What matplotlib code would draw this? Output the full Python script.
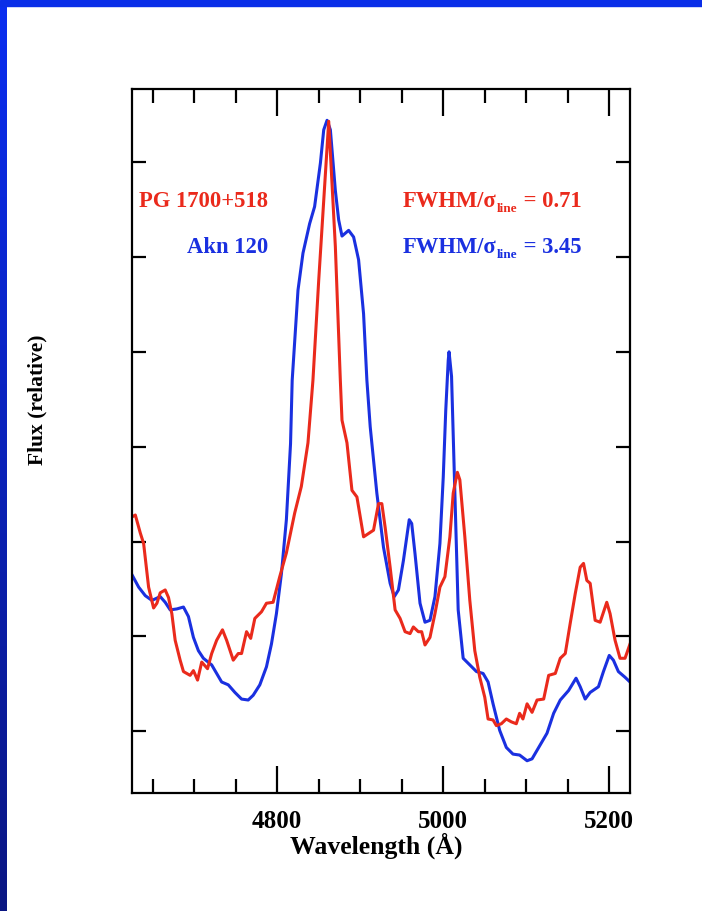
import numpy as np
import matplotlib
matplotlib.use("Agg")
import matplotlib.pyplot as plt
from matplotlib.patches import Rectangle

# ---- spectra (wavelength in Angstrom, relative flux) ----
pg_wave = [4625, 4629, 4635, 4639, 4645, 4651, 4655, 4659, 4665, 4669, 4673, 4677,
           4683, 4687, 4695, 4699, 4704, 4709, 4716, 4721, 4727, 4734, 4739, 4747,
           4753, 4757, 4763, 4768, 4773, 4781, 4787, 4795, 4803, 4811, 4821, 4829,
           4837, 4843, 4850, 4862, 4870, 4876, 4878, 4884, 4890, 4896, 4904, 4916,
           4922, 4926, 4930, 4936, 4942, 4948, 4954, 4960, 4964, 4970, 4974, 4978,
           4984, 4990, 4996, 5002, 5008, 5012, 5017, 5020, 5026, 5032, 5038, 5044,
           5050, 5054, 5060, 5064, 5070, 5076, 5082, 5088, 5092, 5096, 5101, 5107,
           5113, 5121, 5127, 5135, 5141, 5147, 5153, 5159, 5165, 5169, 5173, 5177,
           5183, 5189, 5197, 5201, 5207, 5213, 5219, 5225]
pg_flux = [3.26, 3.28, 3.09, 2.98, 2.52, 2.30, 2.35, 2.46, 2.49, 2.41, 2.24, 1.96,
           1.75, 1.63, 1.59, 1.64, 1.54, 1.73, 1.66, 1.82, 1.96, 2.07, 1.96, 1.75,
           1.82, 1.82, 2.05, 1.98, 2.19, 2.26, 2.35, 2.36, 2.63, 2.88, 3.30, 3.58,
           4.04, 4.70, 5.76, 7.43, 6.11, 4.70, 4.28, 4.04, 3.54, 3.47, 3.05, 3.12,
           3.40, 3.40, 3.15, 2.73, 2.28, 2.19, 2.05, 2.03, 2.10, 2.05, 2.05, 1.91,
           1.99, 2.24, 2.52, 2.63, 3.05, 3.51, 3.73, 3.65, 3.05, 2.38, 1.85, 1.57,
           1.36, 1.13, 1.12, 1.06, 1.08, 1.13, 1.10, 1.08, 1.19, 1.13, 1.29, 1.20,
           1.33, 1.34, 1.59, 1.61, 1.77, 1.82, 2.14, 2.45, 2.73, 2.77, 2.59, 2.56,
           2.17, 2.15, 2.36, 2.24, 1.96, 1.77, 1.77, 1.92]

akn_wave = [4625, 4633, 4641, 4649, 4659, 4665, 4671, 4679, 4687, 4693, 4699, 4705,
            4711, 4721, 4727, 4733, 4741, 4749, 4757, 4765, 4771, 4779, 4787, 4793,
            4799, 4805, 4811, 4816, 4818, 4825, 4831, 4839, 4845, 4852, 4856, 4860,
            4864, 4870, 4874, 4878, 4886, 4892, 4898, 4904, 4908, 4912, 4920, 4928,
            4936, 4941, 4946, 4952, 4959, 4962, 4966, 4972, 4978, 4984, 4990, 4996,
            5000, 5003, 5006, 5007, 5010, 5014, 5018, 5024, 5032, 5040, 5048, 5054,
            5060, 5068, 5076, 5084, 5092, 5101, 5107, 5115, 5125, 5133, 5141, 5151,
            5160, 5165, 5171, 5177, 5187, 5193, 5200, 5205, 5211, 5219, 5225]
akn_flux = [2.65, 2.52, 2.43, 2.38, 2.42, 2.36, 2.28, 2.29, 2.31, 2.21, 1.99, 1.85,
            1.77, 1.70, 1.61, 1.52, 1.49, 1.41, 1.34, 1.33, 1.38, 1.49, 1.68, 1.92,
            2.24, 2.66, 3.23, 4.03, 4.70, 5.65, 6.04, 6.35, 6.53, 6.99, 7.34, 7.44,
            7.34, 6.70, 6.39, 6.22, 6.28, 6.21, 5.97, 5.40, 4.70, 4.21, 3.51, 2.94,
            2.56, 2.42, 2.49, 2.80, 3.23, 3.19, 2.87, 2.35, 2.15, 2.17, 2.42, 2.98,
            3.68, 4.38, 4.91, 5.00, 4.74, 3.51, 2.28, 1.77, 1.70, 1.63, 1.61, 1.52,
            1.29, 1.01, 0.83, 0.76, 0.75, 0.69, 0.71, 0.83, 0.98, 1.19, 1.33, 1.43,
            1.56, 1.47, 1.34, 1.41, 1.47, 1.63, 1.80, 1.75, 1.63, 1.57, 1.52]

x_major = [4800, 5000, 5200]
x_minor = [4650, 4700, 4750, 4850, 4900, 4950, 5050, 5100, 5150]
y_major = [1, 2, 3, 4, 5, 6, 7]

pg_label = "PG 1700+518"
akn_label = "Akn 120"
pg_ratio = "0.71"
akn_ratio = "3.45"

RED = "#ea2a1c"
BLUE = "#1a30e0"
FRAME_BLUE = "#0a2ee8"

plt.rcParams["font.family"] = ["Liberation Serif", "DejaVu Serif"]
plt.rcParams["font.weight"] = "bold"

W, H = 702, 911
fig = plt.figure(figsize=(W / 100, H / 100), dpi=100, facecolor="white")

# slide frame: blue bar along the top, gradient strip down the left
fig.patches.append(Rectangle((0, 1 - 6 / H), 1, 6 / H, transform=fig.transFigure,
                             color=FRAME_BLUE, zorder=0))
strip = fig.add_axes([0, 0, 7 / W, 1 - 6 / H])
grad = np.linspace(0, 1, 256)[:, None]
top_c = np.array([10, 46, 240]) / 255
bot_c = np.array([10, 22, 130]) / 255
img = top_c[None, None, :] * (1 - grad[:, :, None]) + bot_c[None, None, :] * grad[:, :, None]
strip.imshow(img, aspect="auto", extent=[0, 1, 0, 1], origin="upper")
strip.set_axis_off()

# spectrum panel
ax = fig.add_axes([132 / W, 1 - 793 / H, 498 / W, 704 / H])
ax.plot(akn_wave, akn_flux, color=BLUE, lw=2.2, solid_joinstyle="round")
ax.plot(pg_wave, pg_flux, color=RED, lw=2.2, solid_joinstyle="round")

ax.set_xlim(4625, 5225)
ax.set_ylim(0.35, 7.77)
ax.set_xticks(x_major)
ax.set_xticks(x_minor, minor=True)
ax.set_yticks(y_major)
ax.set_yticklabels([])
for s in ax.spines.values():
    s.set_linewidth(1.6)
ax.tick_params(which="both", direction="in", top=True, right=True, width=1.6)
ax.tick_params(axis="x", which="major", length=19.5, labelsize=18, pad=12.5)
ax.tick_params(axis="x", which="minor", length=10)
ax.tick_params(axis="y", which="major", length=10)

FS = 16.3
ax.text(0.2737, 0.8328, pg_label, transform=ax.transAxes, ha="right",
        va="baseline", color=RED, fontsize=FS, fontweight="bold")
ax.text(0.2737, 0.7675, akn_label, transform=ax.transAxes, ha="right",
        va="baseline", color=BLUE, fontsize=FS, fontweight="bold")


def ratio_label(x, y, value, color):
    """FWHM/sigma_line = value, with a small lowered subscript."""
    head = ax.text(x, y, "FWHM/σ", transform=ax.transAxes, ha="left",
                   va="baseline", color=color, fontsize=FS, fontweight="bold")
    sub = ax.annotate("line", xy=(1, 0), xycoords=head, xytext=(0.3, -2.4),
                      textcoords="offset points", ha="left", va="bottom",
                      color=color, fontsize=9.5, fontweight="bold")
    ax.annotate(" = " + value, xy=(1, 0), xycoords=(sub, head), xytext=(0, 0),
                textcoords="offset points", ha="left", va="bottom",
                color=color, fontsize=FS, fontweight="bold")


ratio_label(0.5436, 0.8328, pg_ratio, RED)
ratio_label(0.5436, 0.7675, akn_ratio, BLUE)

fig.text(376 / W, 1 - 846 / H, "Wavelength (Å)", ha="center", va="center",
         fontsize=18.5, fontweight="bold")
fig.text(37 / W, 1 - 400 / H, "Flux (relative)", ha="center", va="center",
         rotation=90, fontsize=15.5, fontweight="bold")

fig.savefig("out.png", dpi=100, facecolor="white")
